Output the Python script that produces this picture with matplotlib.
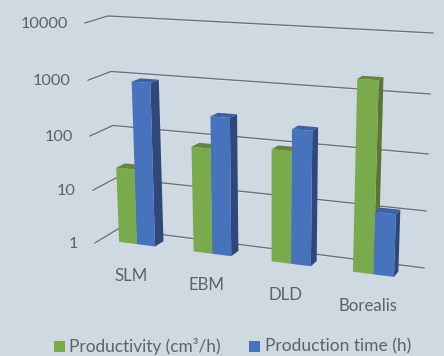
# -*- coding: utf-8 -*-
import numpy as np
import matplotlib
matplotlib.use('Agg')
import matplotlib.pyplot as plt
from matplotlib.patches import Rectangle

categories = ['SLM', 'EBM', 'DLD', 'Borealis']
productivity = [25, 82, 100, 1950]
production_time = [965, 300, 235, 12]
tick_labels = ['1', '10', '100', '1000', '10000']

series_names = ['Productivity (cm³/h)', 'Production time (h)']

plt.rcParams['font.family'] = ['Lato', 'DejaVu Sans']

BACKGROUND = '#cfd9e2'
TEXT = '#5f6265'
GREEN = dict(front='#79ab4c', top='#65843c', side='#5d7434')
BLUE = dict(front='#4772bc', top='#3b60a3', side='#2f4779')

# back wall corners in pixels, one row per decade
LEFT_X = [118, 116, 113, 111, 108]
LEFT_Y = [229, 178, 125.5, 71.5, 16]
RIGHT_X = [424, 426, 428, 430, 433]
RIGHT_Y = [268, 211, 154, 94, 33]
DECADES = [0, 1, 2, 3, 4]

BAR_FRONT = 0.753
BAR_BACK = 0.38
GROUP_WIDTH = 0.122


def project(u, v, d):
    """Map wall position u, log10 value v and depth d (0 wall, 1 front) to pixels."""
    left_x, left_y = np.interp(v, DECADES, LEFT_X), np.interp(v, DECADES, LEFT_Y)
    right_x, right_y = np.interp(v, DECADES, RIGHT_X), np.interp(v, DECADES, RIGHT_Y)
    x = left_x + u * (right_x - left_x) - 23 * d
    y = left_y + u * (right_y - left_y) + d * (7 + (4 - v) / 4 * 7)
    return x, y


def bar_point(u, v, d):
    # bar sides get narrower towards the right of the floor
    x, y = project(u, v, d)
    return x - 23 * 0.6 * max(u - 0.15, 0) * (BAR_FRONT - d), y


def warp(s):
    # the far side of the floor looks narrower, so positions are not linear
    return s * (0.94 + 0.09 * s)


def draw_bar(ax, u0, u1, value, colors, zorder):
    v = np.log10(value)
    front = [bar_point(u0, 0, BAR_FRONT), bar_point(u1, 0, BAR_FRONT),
             bar_point(u1, v, BAR_FRONT), bar_point(u0, v, BAR_FRONT)]
    side = [bar_point(u1, 0, BAR_FRONT), bar_point(u1, 0, BAR_BACK),
            bar_point(u1, v, BAR_BACK), bar_point(u1, v, BAR_FRONT)]
    top = [bar_point(u0, v, BAR_FRONT), bar_point(u1, v, BAR_FRONT),
           bar_point(u1, v, BAR_BACK), bar_point(u0, v, BAR_BACK)]
    ax.fill(*zip(*side), color=colors['side'], lw=0, zorder=zorder)
    ax.fill(*zip(*top), color=colors['top'], lw=0, zorder=zorder)
    ax.fill(*zip(*front), color=colors['front'], lw=0, zorder=zorder)


fig = plt.figure(figsize=(4.44, 3.56), dpi=100, facecolor=BACKGROUND)
ax = fig.add_axes([0, 0, 1, 1])
ax.set_xlim(0, 444)
ax.set_ylim(356, 0)
ax.axis('off')

# gridlines run along the side wall, then across the back wall
for v, label in zip(DECADES, tick_labels):
    points = [project(0, v, 1), project(0, v, 0), project(1, v, 0)]
    xs, ys = zip(*points)
    ax.plot(xs, np.array(ys) + 0.8, color='#e4e9ee', lw=0.8, zorder=1)
    ax.plot(xs, ys, color='#6b6e72', lw=0.95, zorder=2)
    x, y = points[0]
    ax.text(x - 17, y + 1, label, ha='right', va='center', fontsize=11.7, color=TEXT)

for i, name in enumerate(categories):
    s = (i + 0.5) / len(categories)
    center = warp(s)
    half = GROUP_WIDTH * (0.94 + 0.18 * s) / 2
    zorder = 3 + i * 2
    draw_bar(ax, center - half, center, productivity[i], GREEN, zorder)
    draw_bar(ax, center, center + half, production_time[i], BLUE, zorder + 1)
    x, y = project(center, 0, 1)
    ax.text(x, y + 28, name, ha='center', va='center', fontsize=12.1, color=TEXT)

# legend
ax.add_patch(Rectangle((54, 341), 11, 11, color=GREEN['front'], lw=0))
ax.text(69, 346.5, series_names[0], ha='left', va='center', fontsize=12.4, color=TEXT)
ax.add_patch(Rectangle((249, 341), 11, 11, color=BLUE['front'], lw=0))
ax.text(265, 346.5, series_names[1], ha='left', va='center', fontsize=12.5, color=TEXT)

fig.savefig('out.png', dpi=100, facecolor=BACKGROUND)
